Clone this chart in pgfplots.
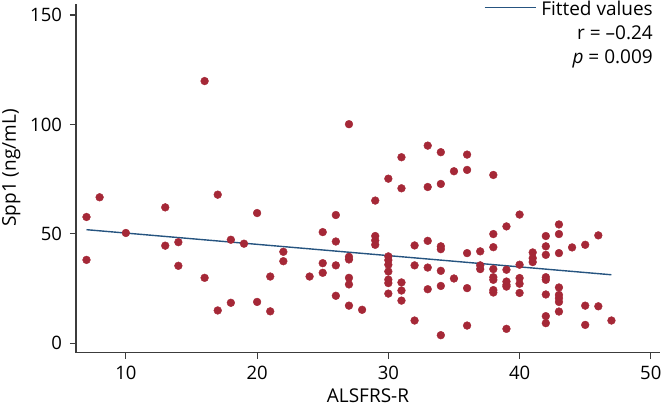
\documentclass[border=0pt]{standalone}
\usepackage{pgfplots}
\pgfplotsset{compat=1.18}
\usepackage{pgfplotstable}
\usepackage{fontspec}
\setmainfont{Open Sans}
\definecolor{ptred}{RGB}{165,40,55}
\definecolor{fitblue}{RGB}{38,84,128}
\definecolor{spine}{RGB}{60,60,60}
\pgfplotstableread{
x y
7 57.7
7 38.1
8 66.7
10 50.4
13 62.1
13 44.6
14 46.2
14 35.4
16 119.8
16 29.9
17 67.9
17 15.0
18 47.3
18 18.5
19 45.5
20 59.5
20 18.9
21 30.5
21 14.6
22 41.8
22 37.5
24 30.5
25 50.8
25 36.6
25 32.2
26 58.6
26 46.5
26 35.6
26 21.7
27 100.1
27 39.5
27 38.3
27 29.9
27 26.9
27 17.2
28 15.3
29 65.2
29 49.0
29 47.0
29 45.0
30 75.2
30 39.7
30 38.0
30 35.9
30 32.8
30 29.1
30 27.5
30 22.7
31 85.0
31 70.8
31 27.8
31 24.1
31 19.5
32 44.7
32 35.6
32 10.4
33 90.3
33 71.4
33 46.8
33 34.6
33 24.7
34 87.3
34 72.8
34 44.3
34 43.0
34 33.1
34 26.2
34 3.7
35 78.6
35 29.6
36 86.2
36 79.2
36 41.2
36 25.2
36 8.1
37 42.0
37 35.6
37 33.9
38 76.9
38 49.9
38 43.9
38 33.9
38 30.2
38 29.0
38 24.3
38 23.2
39 53.4
39 33.6
39 28.2
39 26.7
39 25.9
39 6.6
40 58.8
40 35.9
40 29.8
40 27.2
40 23.0
41 41.5
41 38.9
41 37.1
42 49.0
42 44.3
42 40.4
42 30.2
42 29.0
42 22.3
42 12.4
42 9.2
43 54.3
43 49.9
43 41.2
43 25.5
43 22.1
43 20.6
43 18.9
43 14.5
44 43.8
45 45.0
45 17.2
45 8.4
46 49.3
46 16.9
47 10.4
}\pointdata
\begin{document}
\begin{tikzpicture}
\useasboundingbox (-76pt,-57.3pt) rectangle (587pt,352.7pt);
\begin{axis}[
  at={(0pt,0pt)}, anchor=south west,
  scale only axis, width=584pt, height=348.7pt,
  xmin=6.2, xmax=50.7, ymin=-4.3, ymax=155,
  axis x line*=bottom, axis y line*=left,
  axis line style={spine, line width=1.5pt, -},
  every tick/.style={spine, line width=1.2pt},
  tick align=outside, major tick length=6pt,
  xtick={10,20,30,40,50}, ytick={0,50,100,150},
  /pgf/number format/assume math mode=true,
  ticklabel style={font=\fontsize{18.5}{21}\selectfont, text=black},
  xticklabel style={yshift=-4pt},
  yticklabel style={xshift=-4.5pt},
  xlabel={ALSFRS-R}, ylabel={Spp1 (ng/mL)},
  xlabel style={at={(axis description cs:0.5,0)}, anchor=north, inner sep=0pt, yshift=-36.3pt,
    font=\fontsize{19}{22}\selectfont},
  ylabel style={at={(axis description cs:-0.1267,0.53)}, anchor=north, inner sep=0pt,
    font=\fontsize{19}{22}\selectfont},
  clip=false,
  legend style={at={(axis description cs:0.988,1.008)}, anchor=north east,
    draw=none, fill=none, font=\fontsize{19}{22}\selectfont,
    inner sep=0pt, row sep=5.6pt, column sep=5pt,
    nodes={inner sep=0pt, text height=14.4pt, text depth=4pt}},
  legend cell align=right,
]
\addplot[fitblue, line width=1.4pt, mark=none,
  legend image code/.code={\draw[fitblue, line width=1.4pt] (0pt,3pt) -- (51pt,3pt);}]
  coordinates {(7,51.9) (47,31.3)};
\addlegendentry{Fitted values}
\addlegendimage{empty legend}\addlegendentry{r = –0.24}
\addlegendimage{empty legend}\addlegendentry{\textit{p} = 0.009}
\addplot[only marks, mark=*, mark size=3.9pt, color=ptred, forget plot] table[x=x,y=y] {\pointdata};
\end{axis}
\end{tikzpicture}
\end{document}
